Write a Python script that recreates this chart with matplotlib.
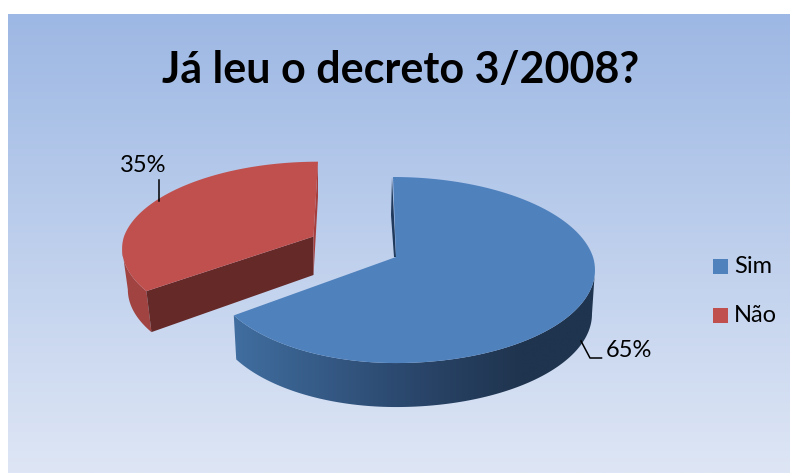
import numpy as np
import matplotlib
matplotlib.use('Agg')
import matplotlib.pyplot as plt
import matplotlib.colors as mcolors
from matplotlib.patches import Polygon

plt.rcParams['font.family'] = ['Lato', 'DejaVu Sans']

title = "Já leu o decreto 3/2008?"
labels = ['Sim', 'Não']
values = [65, 35]

BLUE = '#4F81BD'
RED = '#C0504D'


def rim(theta, apex, sx, sy, lean):
    """Project angles (degrees) on the slice rim to picture pixels, with a little perspective."""
    u = np.cos(np.radians(theta))
    v = np.sin(np.radians(theta))
    w = 1 + 0.14 * v
    bx = np.where(u < 0, 184.0, 197.0)
    x = apex[0] + sx * bx * u / w + lean * np.clip(v, 0, 1)
    y = apex[1] - sy * 91.2 * v / w
    return np.column_stack([x, y])


def lower(points, apex, depth, shrink):
    """The same points on the underside of the slice."""
    out = points.copy()
    out[:, 0] = apex[0] + (out[:, 0] - apex[0]) * shrink
    out[:, 1] = out[:, 1] + depth
    return out


fig = plt.figure(figsize=(7.9, 4.73), dpi=100)
ax = fig.add_axes([0, 0, 1, 1])

# Background panel
bg = mcolors.LinearSegmentedColormap.from_list('bg', ['#9DB8E4', '#DEE6F5'])
ax.imshow(np.linspace(0, 1, 256).reshape(-1, 1), cmap=bg, aspect='auto',
          extent=(8, 790, 473, 15), zorder=0)

# Slice angles come from the values, clockwise from the top
total = sum(values)
blue_start = 90.0
blue_end = blue_start - 360.0 * values[0] / total
red_end = blue_end - 360.0 * values[1] / total

# Red slice (the exploded one, at the back)
apex_r = np.array([313.5, 236.5])
depth_r, shrink_r = 41, 0.97
th_r = np.linspace(blue_end, red_end, 120)
rim_r = rim(th_r, apex_r, 1.03, 0.935, 4.5)

# Outer wall on the left, up to the leftmost point of the rim
th_w = np.linspace(blue_end, -172, 30)
rim_w = rim(th_w, apex_r, 1.03, 0.935, 4.5)
ax.add_patch(Polygon(np.vstack([rim_w, lower(rim_w, apex_r, depth_r, shrink_r)[::-1]]),
                     fc='#A14441', ec='none', zorder=2))
# Cut face in the front
end_r = rim_r[0]
end_low = lower(rim_r[:1], apex_r, depth_r, shrink_r)[0]
ax.add_patch(Polygon([apex_r, end_r, end_low, apex_r + [0, 38.5]],
                     fc='#652928', ec='none', zorder=2))
# Thin cut face on the right
start_r = rim_r[-1]
ax.add_patch(Polygon([apex_r, start_r, start_r + [0, 35], apex_r + [0, 38.5]],
                     fc='#A53E3C', ec='none', zorder=2))
ax.add_patch(Polygon(np.vstack([apex_r, rim_r]), fc=RED, ec='none', zorder=3))

# Blue slice
apex_b = np.array([396.0, 257.0])
depth_b, shrink_b = 44, 0.985
th_b = np.linspace(blue_start, blue_end, 240)
rim_b = rim(th_b, apex_b, 1.0, 1.0, -3.0)

# Front wall with the dark gradient, clipped to its outline
th_f = np.linspace(-8, blue_end, 160)
rim_f = rim(th_f, apex_b, 1.0, 1.0, -3.0)
wall = Polygon(np.vstack([rim_f, lower(rim_f, apex_b, depth_b, shrink_b)[::-1]]),
               fc='none', ec='none', zorder=4)
ax.add_patch(wall)
wall_cmap = mcolors.LinearSegmentedColormap.from_list(
    'wall', [(0, '#406EA0'), (0.5, '#2A466B'), (0.8, '#1F344E'), (1, '#1F344E')])
im = ax.imshow(np.linspace(0, 1, 256).reshape(1, -1), cmap=wall_cmap, aspect='auto',
               extent=(233, 595, 420, 260), zorder=4)
im.set_clip_path(wall)

# Dark sliver of the cut face next to the top of the slice
start_b = rim_b[0]
ax.add_patch(Polygon([start_b + [-1, 0], start_b + [-2, 38], apex_b + [-2, 0], apex_b],
                     fc='#1F3A5C', ec='none', zorder=4))
ax.add_patch(Polygon(np.vstack([apex_b, rim_b]), fc=BLUE, ec='none', zorder=5))

# Data labels with their leader lines
ax.plot([158.5, 158.5], [201, 180], color='black', lw=1.1, zorder=6)
ax.text(143.5, 165.5, f'{values[1]}%', fontsize=17, ha='center', va='center', color='black')
ax.plot([581, 590, 601.5], [341, 358, 358], color='black', lw=1.1, zorder=6)
ax.text(606, 350, f'{values[0]}%', fontsize=17, ha='left', va='center', color='black')

# Legend
for name, colour, y in zip(labels, [BLUE, RED], [266.5, 315.5]):
    ax.add_patch(Polygon([(713, y - 7.5), (728, y - 7.5), (728, y + 7.5), (713, y + 7.5)],
                         fc=colour, ec='none', zorder=6))
    ax.text(734, y - 0.5, name, fontsize=17, ha='left', va='center', color='black')

ax.text(401, 70, title, fontsize=31, fontweight='bold', ha='center', va='center', color='black')

ax.set_xlim(0, 790)
ax.set_ylim(473, 0)
ax.axis('off')

fig.savefig('out.png', dpi=100, facecolor='white')
